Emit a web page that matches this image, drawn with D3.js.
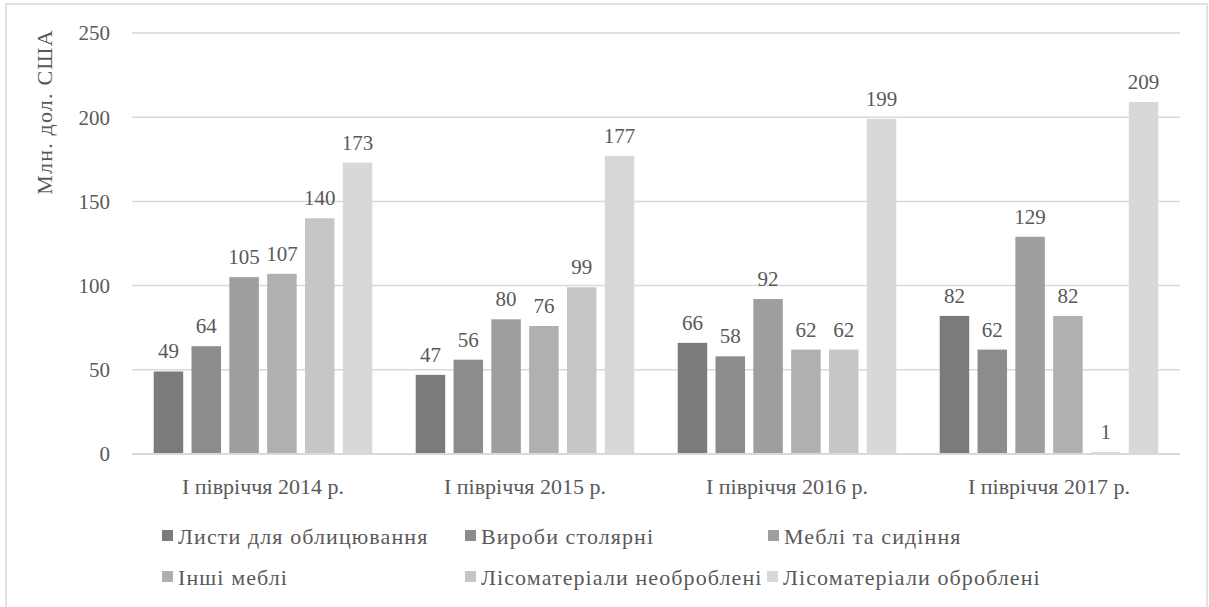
<!DOCTYPE html>
<html>
<head>
<meta charset="utf-8">
<script src="https://cdn.jsdelivr.net/npm/d3@7"></script>
<style>
  body { margin: 0; background: #fff; }
</style>
</head>
<body>
<svg id="chart" width="1209" height="607" font-family="'Liberation Serif', 'Times New Roman', Times, 'DejaVu Serif', serif"></svg>
<script>
// Data
const categories = ['I півріччя 2014 р.', 'I півріччя 2015 р.', 'I півріччя 2016 р.', 'I півріччя 2017 р.'];
const seriesNames = ['Листи для облицювання', 'Вироби столярні', 'Меблі та сидіння',
                     'Інші меблі', 'Лісоматеріали необроблені', 'Лісоматеріали оброблені'];
const listy = [49, 47, 66, 82];
const vyroby = [64, 56, 58, 62];
const mebli = [105, 80, 92, 129];
const inshi = [107, 76, 62, 82];
const neobrobleni = [140, 99, 62, 1];
const obrobleni = [173, 177, 199, 209];
const yTicks = [0, 50, 100, 150, 200, 250];

const seriesValues = [listy, vyroby, mebli, inshi, neobrobleni, obrobleni];
const colors = ['#7b7b7b', '#8c8c8c', '#9e9e9e', '#b0b0b0', '#c6c6c6', '#d8d8d8'];
const textColor = '#595959';

const svg = d3.select('#chart');

// Layout
const plot = { left: 132, right: 1180, top: 33, bottom: 454 };

// Outer border
svg.append('rect')
    .attr('x', 6).attr('y', 4)
    .attr('width', 1201).attr('height', 620)
    .attr('fill', 'none')
    .attr('stroke', '#d9d9d9')
    .attr('stroke-width', 1.5);

const y = d3.scaleLinear().domain([0, 250]).range([plot.bottom, plot.top]);

const x0 = d3.scaleBand()
    .domain(categories)
    .range([plot.left, plot.right])
    .paddingInner(0.134)
    .paddingOuter(0.067);

const x1 = d3.scaleBand()
    .domain(d3.range(seriesNames.length))
    .range([0, x0.bandwidth()])
    .paddingInner(0.22)
    .paddingOuter(0.11);

// Gridlines
svg.append('g')
    .selectAll('line')
    .data(yTicks.filter(d => d > 0))
    .join('line')
    .attr('x1', plot.left).attr('x2', plot.right)
    .attr('y1', d => y(d)).attr('y2', d => y(d))
    .attr('stroke', '#d9d9d9')
    .attr('stroke-width', 1.5);

// Y tick labels
svg.append('g')
    .selectAll('text')
    .data(yTicks)
    .join('text')
    .attr('x', 110)
    .attr('y', d => y(d))
    .attr('dy', '0.35em')
    .attr('text-anchor', 'end')
    .attr('font-size', 21)
    .attr('fill', textColor)
    .text(d => d);

// Bars
const groups = svg.append('g')
    .selectAll('g')
    .data(categories)
    .join('g')
    .attr('transform', d => `translate(${x0(d)},0)`);

groups.selectAll('rect')
    .data((c, ci) => seriesValues.map((vals, si) => ({ si, v: vals[ci] })))
    .join('rect')
    .attr('x', d => x1(d.si))
    .attr('y', d => y(d.v))
    .attr('width', x1.bandwidth())
    .attr('height', d => y(0) - y(d.v))
    .attr('fill', d => colors[d.si]);

// Value labels
groups.selectAll('text')
    .data((c, ci) => seriesValues.map((vals, si) => ({ si, v: vals[ci] })))
    .join('text')
    .attr('x', d => x1(d.si) + x1.bandwidth() / 2)
    .attr('y', d => y(d.v) - 13)
    .attr('text-anchor', 'middle')
    .attr('font-size', 21)
    .attr('fill', textColor)
    .text(d => d.v);

// X axis line
svg.append('line')
    .attr('x1', plot.left).attr('x2', plot.right)
    .attr('y1', y(0)).attr('y2', y(0))
    .attr('stroke', '#d9d9d9')
    .attr('stroke-width', 2);

// Category labels
svg.append('g')
    .selectAll('text')
    .data(categories)
    .join('text')
    .attr('x', d => x0(d) + x0.bandwidth() / 2)
    .attr('y', 494)
    .attr('text-anchor', 'middle')
    .attr('font-size', 22)
    .attr('fill', textColor)
    .text(d => d);

// Y axis title
svg.append('text')
    .attr('transform', 'translate(52,112) rotate(-90)')
    .attr('text-anchor', 'middle')
    .attr('font-size', 22)
    .attr('letter-spacing', 1.2)
    .attr('fill', textColor)
    .text('Млн. дол. США');

// Legend
const legendPos = [[162, 536], [465, 536], [768, 536], [162, 577], [465, 577], [767, 577]];
const legend = svg.append('g')
    .selectAll('g')
    .data(seriesNames)
    .join('g')
    .attr('transform', (d, i) => `translate(${legendPos[i][0]},${legendPos[i][1]})`);

legend.append('rect')
    .attr('x', 0).attr('y', -6)
    .attr('width', 11).attr('height', 11)
    .attr('fill', (d, i) => colors[i]);

legend.append('text')
    .attr('x', 16)
    .attr('dy', '0.35em')
    .attr('font-size', 22)
    .attr('letter-spacing', 1.1)
    .attr('fill', textColor)
    .text(d => d);
</script>
</body>
</html>
